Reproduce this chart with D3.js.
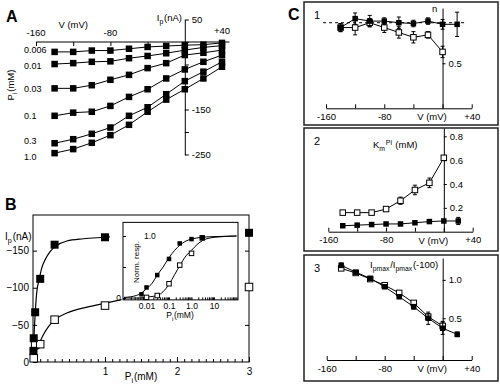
<!DOCTYPE html>
<html>
<head>
<meta charset="utf-8">
<script src="https://cdn.jsdelivr.net/npm/d3@7"></script>
<style>
  body { margin: 0; background: #fff; }
  svg { display: block; }
</style>
</head>
<body>
<svg id="fig" width="500" height="385"></svg>
<script>
// ---- panel A: I-V curves at six Pi concentrations ----
var aVolts = [-140, -120, -100, -80, -60, -40, -20, 0, 20, 40];
var aPiLabels = ["0.006", "0.01", "0.03", "0.1", "0.3", "1.0"];
var aIp = [
  [-22, -22, -19, -19, -15, -11, -9, -7, -6, -2],
  [-49, -47, -44, -43, -36, -31, -25, -18, -12, -8],
  [-103, -103, -96, -84, -73, -58, -47, -29, -24, -18],
  [-164, -157, -155, -142, -122, -105, -81, -61, -44, -29],
  [-225, -216, -204, -190, -164, -145, -116, -87, -66, -44],
  [-247, -238, -224, -207, -184, -155, -128, -105, -81, -55]
];
var aVTicks = [-160, -120, -80, -40, 0, 40];
var aVLabelVals = [-160, -80, 40], aVLabelText = ["-160", "-80", "+40"];
var aITicks = [50, 0, -50, -100, -150, -200, -250];
var aILabelVals = [50, -150, -250];

// ---- panel B: dose-response (main) ----
var bPi = [0.006, 0.01, 0.03, 0.1, 0.3, 1, 3];
var bFilled = [-15, -32, -67, -112, -158, -168, -174];
var bOpenPi = [0.01, 0.03, 0.1, 0.3, 1, 3];
var bOpen = [-5, -23, -24, -57, -76, -101];
var bFitFilledP = [0, 0.004, 0.014, 0.028, 0.051, 0.088, 0.12, 0.17, 0.24, 0.33, 0.47, 0.7, 1.0, 1.07];
var bFitFilledI = [0, -5, -34, -61, -93, -112, -126, -138, -149, -157, -163, -166, -168, -168.5];
var bFitOpenP = [0, 0.028, 0.051, 0.088, 0.14, 0.21, 0.29, 0.47, 0.75, 0.99, 1.23];
var bFitOpenI = [0, -9, -16, -25, -36, -47, -56, -66, -74, -79, -84];
var bYTicks = [0, -50, -100, -150];
var bXLabels = [1, 2, 3];

// ---- panel B inset: normalised response, log Pi ----
var insP = [0.006, 0.01, 0.03, 0.1, 0.3, 1, 3];
var insFilled = [0.06, 0.17, 0.37, 0.63, 0.88, 0.95, 0.97];
var insOpenP = [0.01, 0.03, 0.1, 0.3, 1, 3];
var insOpen = [0.01, 0.04, 0.23, 0.53, 0.72, 0.97];
var insFitFilledP = [0.001, 0.002, 0.0035, 0.006, 0.01, 0.018, 0.03, 0.055, 0.1, 0.18, 0.3, 0.57, 1, 3, 10, 100];
var insFitFilledN = [0.01, 0.02, 0.04, 0.08, 0.15, 0.24, 0.37, 0.5, 0.65, 0.77, 0.85, 0.92, 0.95, 0.98, 0.99, 1.0];
var insFitOpenP = [0.001, 0.005, 0.014, 0.031, 0.054, 0.1, 0.18, 0.31, 0.57, 1, 1.75, 3.2, 11, 100];
var insFitOpenN = [0, 0, 0.02, 0.04, 0.1, 0.22, 0.38, 0.53, 0.68, 0.77, 0.86, 0.93, 0.98, 1.0];

// ---- panel C: voltage dependence of fit parameters ----
var cV = [-140, -120, -100, -80, -60, -40, -20, 0, 20];
var cVOpen = [-140, -120, -100, -80, -60, -40, -20, 0];
var cVTicks = [-160, -120, -80, -40, 0, 40];
var c1Filled = [0.94, 1.05, 1.02, 1.02, 1.0, 0.99, 1.02, 0.98, 0.98];
var c1FilledErr = [0.05, 0.07, 0.07, 0.04, 0.07, 0.04, 0.04, 0.06, 0.15];
var c1Open = [0.94, 0.94, 1.0, 0.94, 0.88, 0.82, 0.85, 0.64];
var c1OpenErr = [0.05, 0.09, 0.05, 0.06, 0.07, 0.07, 0.04, 0.07];
var c2Filled = [0.05, 0.055, 0.06, 0.065, 0.065, 0.075, 0.085, 0.09, 0.09];
var c2FilledErr = [0.01, 0.01, 0.01, 0.01, 0.01, 0.01, 0.01, 0.01, 0.03];
var c2Open = [0.16, 0.16, 0.16, 0.19, 0.26, 0.35, 0.41, 0.62];
var c2OpenErr = [0.01, 0.01, 0.015, 0.015, 0.03, 0.04, 0.04, 0.02];
var c3Filled = [1.19, 1.10, 1.02, 0.91, 0.78, 0.65, 0.50, 0.37, 0.29];
var c3FilledErr = [0.03, 0.02, 0.02, 0.02, 0.02, 0.03, 0.08, 0.08, 0.03];
var c3Open = [1.15, 1.09, 1.01, 0.93, 0.83, 0.70, 0.52, 0.40];
var c3OpenErr = [0.02, 0.02, 0.02, 0.02, 0.02, 0.02, 0.04, 0.06];

var FONT = "'Liberation Sans', Arial, Helvetica, sans-serif";
var svg = d3.select("#fig").attr("font-family", FONT);

function styl(sel, fs) {
  sel.attr("font-family", FONT).attr("font-size", fs || 9.5);
  sel.selectAll("path, line").attr("stroke", "#000").attr("stroke-width", 1);
  sel.selectAll("text").attr("fill", "#000");
}
function square(g, cx, cy, s, filled) {
  g.append("rect")
    .attr("x", cx - s / 2).attr("y", cy - s / 2)
    .attr("width", s).attr("height", s)
    .attr("fill", filled ? "#000" : "#fff")
    .attr("stroke", "#000").attr("stroke-width", filled ? 0 : 1);
}
function label(g, x, y, parts, opts) {
  opts = opts || {};
  var t = g.append("text").attr("x", x).attr("y", y)
    .attr("font-size", opts.fs || 9.5).attr("fill", "#000")
    .attr("text-anchor", opts.anchor || "start");
  if (opts.rotate) t.attr("transform", "rotate(-90," + x + "," + y + ")");
  parts.forEach(function (p) {
    if (typeof p === "string") { t.append("tspan").text(p); return; }
    var dy = p.sub ? 2.5 : -3.5;
    t.append("tspan").attr("dy", dy).attr("font-size", (opts.fs || 9.5) * 0.72).text(p.t);
    t.append("tspan").attr("dy", -dy).text("\u200a");
  });
  return t;
}
function panelLetter(x, y, s) {
  svg.append("text").attr("x", x).attr("y", y).attr("font-size", 16)
    .attr("font-weight", "bold").attr("fill", "#000").text(s);
}

// =================== A ===================
(function () {
  var g = svg.append("g");
  var x = d3.scaleLinear().domain([-160, 40]).range([36, 222]);
  var y = d3.scaleLinear().domain([-250, 50]).range([154.5, 19.5]);

  panelLetter(6, 22, "A");

  // x axis at I = 0, ticks down, labels above
  g.append("line").attr("x1", x(-160)).attr("x2", x(48))
    .attr("y1", y(0)).attr("y2", y(0)).attr("stroke", "#000");
  var xa = g.append("g").attr("transform", "translate(0," + y(0) + ")")
    .call(d3.axisBottom(x).tickValues(aVTicks).tickSize(4).tickSizeOuter(0).tickFormat(""));
  xa.select(".domain").remove();
  styl(xa);
  aVLabelVals.forEach(function (v, i) {
    g.append("text").attr("x", x(v)).attr("y", v === 40 ? 34 : 36)
      .attr("text-anchor", "middle").attr("font-size", 9.5).text(aVLabelText[i]);
  });
  label(g, x(-120), 28, ["V (mV)"], { anchor: "middle" });

  // y axis at V = 0, ticks right
  var ya = g.append("g").attr("transform", "translate(" + x(0) + ",0)")
    .call(d3.axisRight(y).tickValues(aITicks).tickSize(4).tickSizeOuter(0)
      .tickFormat(function (d) { return aILabelVals.indexOf(d) >= 0 ? d : ""; }));
  styl(ya);
  label(g, 182, 21, ["I", { t: "p", sub: true }, "(nA)"], { anchor: "end" });

  // traces
  var line = d3.line().x(function (d, i) { return x(aVolts[i]); }).y(function (d) { return y(d); });
  aIp.forEach(function (row) {
    g.append("path").datum(row).attr("d", line)
      .attr("fill", "none").attr("stroke", "#000").attr("stroke-width", 1);
    row.forEach(function (d, i) { square(g, x(aVolts[i]), y(d), 6.5, true); });
  });

  // concentration labels at the left, pushed apart where crowded
  var ly = aIp.map(function (row) { return y(row[0]) + 3.5; });
  for (var k = 1; k < ly.length; k++) {
    var gap = ly[k] - ly[k - 1];
    if (gap < 16) { ly[k - 1] -= (16 - gap) / 2; ly[k] += (16 - gap) / 2; }
  }
  aPiLabels.forEach(function (s, i) {
    g.append("text").attr("x", 24).attr("y", ly[i]).attr("font-size", 9).text(s);
  });
  label(g, 14, 85, ["P", { t: "i", sub: true }, "(mM)"], { anchor: "middle", rotate: true });
})();

// =================== B ===================
(function () {
  var g = svg.append("g");
  var x = d3.scaleLinear().domain([0, 3]).range([33, 249]);
  var y = d3.scaleLinear().domain([0, -198]).range([362, 215]);

  panelLetter(5, 210, "B");

  g.append("rect").attr("x", x(0)).attr("y", y(-198))
    .attr("width", x(3) - x(0)).attr("height", y(0) - y(-198))
    .attr("fill", "none").attr("stroke", "#000").attr("stroke-width", 1);

  var minor = g.append("g").attr("transform", "translate(0," + y(0) + ")")
    .call(d3.axisBottom(x).tickValues(d3.range(1, 30).map(function (k) { return k / 10; }))
      .tickSize(-3).tickSizeOuter(0).tickFormat(""));
  minor.select(".domain").remove();
  styl(minor);
  var major = g.append("g").attr("transform", "translate(0," + y(0) + ")")
    .call(d3.axisBottom(x).tickValues(bXLabels).tickSize(-5).tickSizeOuter(0).tickPadding(6)
      .tickFormat(d3.format("d")));
  major.select(".domain").remove();
  styl(major, 10);

  var ya = g.append("g").attr("transform", "translate(" + x(0) + ",0)")
    .call(d3.axisLeft(y).tickValues(bYTicks).tickSize(-4).tickSizeOuter(0).tickPadding(4));
  ya.select(".domain").remove();
  styl(ya, 10);
  var yr = g.append("g").attr("transform", "translate(" + x(3) + ",0)")
    .call(d3.axisRight(y).tickValues([-50, -100, -150]).tickSize(-4).tickSizeOuter(0).tickFormat(""));
  yr.select(".domain").remove();
  styl(yr);

  label(g, 5, 240, ["I", { t: "p", sub: true }, "(nA)"], { fs: 10 });
  label(g, x(1.5), 380, ["P", { t: "i", sub: true }, "(mM)"], { anchor: "middle", fs: 10 });

  var line = d3.line().curve(d3.curveMonotoneX);
  g.append("path").datum(bFitFilledP.map(function (p, i) { return [x(p), y(bFitFilledI[i])]; }))
    .attr("d", line).attr("fill", "none").attr("stroke", "#000").attr("stroke-width", 1.2);
  g.append("path").datum(bFitOpenP.map(function (p, i) { return [x(p), y(bFitOpenI[i])]; }))
    .attr("d", line).attr("fill", "none").attr("stroke", "#000").attr("stroke-width", 1.2);

  bOpenPi.forEach(function (p, i) { square(g, x(p), y(bOpen[i]), 7.5, false); });
  bPi.forEach(function (p, i) { square(g, x(p), y(bFilled[i]), 8, true); });

  // ---- inset ----
  var xi = d3.scaleLog().domain([0.001, 100]).range([124, 236.5]);
  var yi = d3.scaleLinear().domain([0, 1]).range([298, 236]);
  var gi = g.append("g");
  gi.append("rect").attr("x", 123).attr("y", yi(1.22))
    .attr("width", 238 - 123).attr("height", yi(-0.03) - yi(1.22))
    .attr("fill", "#fff").attr("stroke", "#000").attr("stroke-width", 1);

  var decade = { "-2": "0.01", "-1": "0.1", "0": "1.0", "1": "10" };
  var xia = gi.append("g").attr("transform", "translate(0," + yi(-0.03) + ")")
    .call(d3.axisBottom(xi).tickSize(-2.5).tickSizeOuter(0).tickPadding(3)
      .tickFormat(function (d) {
        var e = Math.log10(d), r = Math.round(e);
        return Math.abs(e - r) < 1e-6 && decade[r] ? decade[r] : "";
      }));
  xia.select(".domain").remove();
  styl(xia, 8.5);
  var yia = gi.append("g").attr("transform", "translate(123,0)")
    .call(d3.axisRight(yi).tickValues([0, 0.5, 1]).tickSize(3).tickSizeOuter(0).tickFormat(""));
  yia.select(".domain").remove();
  styl(yia);
  gi.append("text").attr("x", 144).attr("y", yi(1) + 3).attr("font-size", 8.5).text("1.0");
  gi.append("text").attr("x", 121).attr("y", yi(0) + 3).attr("font-size", 8.5)
    .attr("text-anchor", "end").text("0");
  label(gi, 139, 262, ["Norm. resp."], { anchor: "middle", rotate: true, fs: 8 });
  label(gi, 180, 318, ["P", { t: "i", sub: true }, "(mM)"], { anchor: "middle", fs: 8.5 });

  gi.append("path").datum(insFitFilledP.map(function (p, i) { return [xi(p), yi(insFitFilledN[i])]; }))
    .attr("d", line).attr("fill", "none").attr("stroke", "#000").attr("stroke-width", 1);
  gi.append("path").datum(insFitOpenP.map(function (p, i) { return [xi(p), yi(insFitOpenN[i])]; }))
    .attr("d", line).attr("fill", "none").attr("stroke", "#000").attr("stroke-width", 1);
  insOpenP.forEach(function (p, i) { square(gi, xi(p), yi(insOpen[i]), 4.5, false); });
  insP.forEach(function (p, i) { square(gi, xi(p), yi(insFilled[i]), 4.5, true); });
})();

// =================== C ===================
var C_X0 = 304, C_X1 = 498;
panelLetter(288, 20, "C");

function cPanel(p) {
  var g = svg.append("g");
  g.append("rect").attr("x", C_X0).attr("y", p.box[0])
    .attr("width", C_X1 - C_X0).attr("height", p.box[1] - p.box[0])
    .attr("fill", "none").attr("stroke", "#222").attr("stroke-width", 1.5);
  g.append("text").attr("x", C_X0 + 10).attr("y", p.box[0] + 17)
    .attr("font-size", 11).text(p.num);

  var x = d3.scaleLinear().domain([-160, 40]).range(p.xr);
  var y = d3.scaleLinear().domain(p.yd).range(p.yr);

  var xa = g.append("g").attr("transform", "translate(0," + p.yr[0] + ")")
    .call(d3.axisBottom(x).tickValues(cVTicks).tickSize(-4).tickSizeOuter(0).tickPadding(5)
      .tickFormat(function (d) { return d === -160 ? "-160" : d === -80 ? "-80" : d === 40 ? "+40" : ""; }));
  styl(xa);
  g.append("text").attr("x", x(-20) + 4).attr("y", p.yr[0] + 12)
    .attr("text-anchor", "middle").attr("font-size", 9.5).text("V (mV)");

  var ya = g.append("g").attr("transform", "translate(" + x(0) + ",0)")
    .call(d3.axisRight(y).tickValues(p.yTicks).tickSize(3).tickSizeOuter(0).tickPadding(3));
  styl(ya);

  if (p.ref != null) {
    g.append("line").attr("x1", x(p.refV[0])).attr("x2", x(p.refV[1]))
      .attr("y1", y(p.ref)).attr("y2", y(p.ref))
      .attr("stroke", "#000").attr("stroke-width", 1).attr("stroke-dasharray", "3 3");
  }
  label(g, p.yLab[0], p.yLab[1], p.yLabParts);

  var line = d3.line();
  function series(vs, vals, errs, filled) {
    g.append("path").datum(vs.map(function (v, i) { return [x(v), y(vals[i])]; }))
      .attr("d", line).attr("fill", "none").attr("stroke", "#000").attr("stroke-width", 1);
    vs.forEach(function (v, i) {
      var cx = x(v), y0 = y(vals[i] - errs[i]), y1 = y(vals[i] + errs[i]);
      g.append("line").attr("x1", cx).attr("x2", cx).attr("y1", y0).attr("y2", y1)
        .attr("stroke", "#000").attr("stroke-width", 1);
      [y0, y1].forEach(function (yy) {
        g.append("line").attr("x1", cx - 2).attr("x2", cx + 2).attr("y1", yy).attr("y2", yy)
          .attr("stroke", "#000").attr("stroke-width", 1);
      });
    });
    vs.forEach(function (v, i) { square(g, x(v), y(vals[i]), 5.5, filled); });
  }
  series(cVOpen, p.open, p.openErr, false);
  series(cV, p.filled, p.filledErr, true);
}

cPanel({
  num: "1", box: [2, 125], xr: [326, 471.7], yd: [-0.055, 1.18], yr: [108.3, 8.1],
  yTicks: [0.5], ref: 1, refV: [-164, 33],
  yLab: [432, 12], yLabParts: ["n"],
  open: c1Open, openErr: c1OpenErr, filled: c1Filled, filledErr: c1FilledErr
});
cPanel({
  num: "2", box: [128, 251], xr: [328.3, 472.7], yd: [0, 0.87], yr: [231.7, 128],
  yTicks: [0.2, 0.4, 0.6, 0.8], ref: null,
  yLab: [373, 148], yLabParts: ["K", { t: "m", sub: true }, { t: "Pi", sub: false }, " (mM)"],
  open: c2Open, openErr: c2OpenErr, filled: c2Filled, filledErr: c2FilledErr
});
cPanel({
  num: "3", box: [255, 381], xr: [326.7, 471.7], yd: [-0.044, 1.285], yr: [360, 258],
  yTicks: [0.5, 1.0], ref: null,
  yLab: [370, 268], yLabParts: ["I", { t: "pmax", sub: true }, "/I", { t: "pmax", sub: true }, "(-100)"],
  open: c3Open, openErr: c3OpenErr, filled: c3Filled, filledErr: c3FilledErr
});
</script>
</body>
</html>
